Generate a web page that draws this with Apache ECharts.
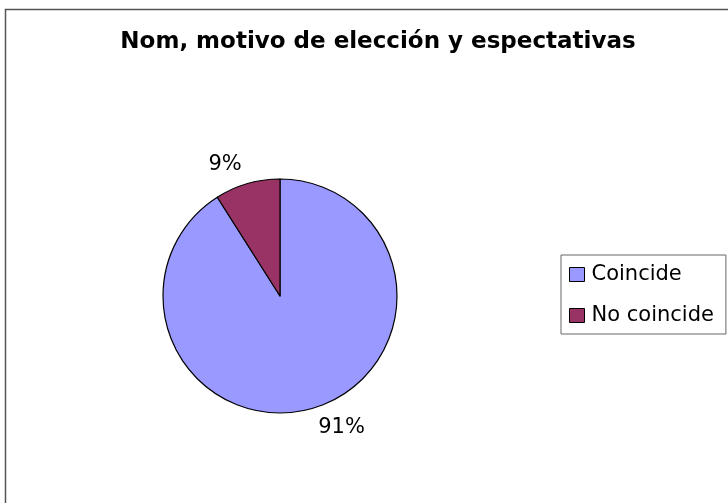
<!DOCTYPE html>
<html>
<head>
<meta charset="utf-8">
<script src="https://cdn.jsdelivr.net/npm/echarts@6/dist/echarts.min.js"></script>
<style>
  html, body { margin: 0; padding: 0; background: #fff; }
  #chart { width: 728px; height: 503px; }
</style>
</head>
<body>
<div id="chart"></div>
<script>
// datos
const categories = ['Coincide', 'No coincide'];
const values = [91, 9];
const colors = ['#9999ff', '#993366'];

const chart = echarts.init(document.getElementById('chart'));

const pieData = categories.map((name, i) => ({
  name: name,
  value: values[i],
  itemStyle: { color: colors[i] }
}));

chart.setOption({
  animation: false,
  backgroundColor: '#fff',
  textStyle: { fontFamily: 'DejaVu Sans' },
  title: {
    text: 'Nom, motivo de elección y espectativas',
    left: 378,
    top: 31,
    padding: 0,
    textAlign: 'center',
    textStyle: {
      fontFamily: 'DejaVu Sans',
      fontWeight: 'bold',
      fontSize: 23,
      color: '#000'
    }
  },
  legend: {
    orient: 'vertical',
    left: 561,
    top: 255,
    padding: [9, 12, 8, 8],
    itemGap: 20,
    itemWidth: 15,
    itemHeight: 14,
    icon: 'rect',
    borderColor: '#666',
    borderWidth: 1,
    itemStyle: { borderColor: '#000', borderWidth: 1 },
    textStyle: { fontSize: 21, color: '#000', padding: [0, 0, 0, 2] },
    data: categories
  },
  graphic: [{
    type: 'rect',
    shape: { x: 5.5, y: 9.5, width: 800, height: 600 },
    style: { fill: 'none', stroke: '#555', lineWidth: 1.5 },
    silent: true
  }],
  series: [{
    type: 'pie',
    center: [280, 296],
    radius: [0, 117],
    startAngle: 90,
    clockwise: true,
    avoidLabelOverlap: false,
    itemStyle: { borderColor: '#000', borderWidth: 1.2 },
    label: {
      show: true,
      position: 'outside',
      formatter: '{d}%',
      fontSize: 21,
      color: '#000',
      distanceToLabelLine: 0
    },
    labelLine: { show: false, length: 20, length2: 0 },
    emphasis: { disabled: true },
    data: pieData
  }]
});
</script>
</body>
</html>
